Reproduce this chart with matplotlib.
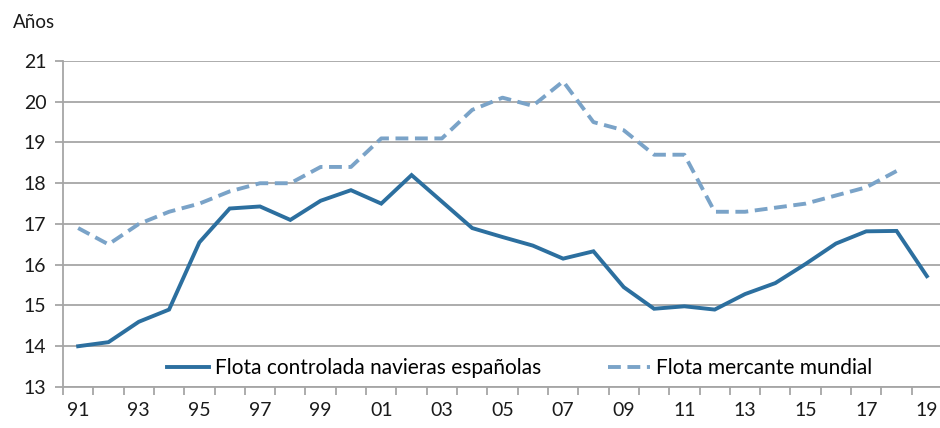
import matplotlib.pyplot as plt
import numpy as np

years = ['91', '92', '93', '94', '95', '96', '97', '98', '99', '00',
         '01', '02', '03', '04', '05', '06', '07', '08', '09', '10',
         '11', '12', '13', '14', '15', '16', '17', '18', '19']

flota_espanola = [14.0, 14.1, 14.6, 14.9, 16.55, 17.38, 17.43, 17.1, 17.57, 17.83,
                  17.5, 18.2, 17.55, 16.9, 16.68, 16.47, 16.15, 16.33, 15.45, 14.92,
                  14.98, 14.9, 15.28, 15.55, 16.02, 16.52, 16.82, 16.83, 15.72]

flota_mundial = [16.9, 16.5, 17.0, 17.3, 17.5, 17.8, 18.0, 18.0, 18.4, 18.4,
                 19.1, 19.1, 19.1, 19.8, 20.1, 19.9, 20.5, 19.5, 19.3, 18.7,
                 18.7, 17.3, 17.3, 17.4, 17.5, 17.7, 17.9, 18.3]

plt.rcParams['font.family'] = ['Lato', 'DejaVu Sans']

fig = plt.figure(figsize=(9.4, 4.28), dpi=100)
ax = fig.add_axes([0.067, 0.0958, 0.94, 0.7617])

grid_col = '#a6a6a6'
x_es = np.arange(len(flota_espanola))
x_mu = np.arange(len(flota_mundial))

ax.plot(x_es, flota_espanola, color='#2c6f9f', lw=2.8,
        label='Flota controlada navieras españolas', solid_joinstyle='miter')
ax.plot(x_mu, flota_mundial, color='#7aa3c8', lw=2.8, ls=(0, (3.3, 1.7)),
        label='Flota mercante mundial')

ax.set_ylim(13, 21)
ax.set_yticks(range(13, 22))
ax.set_xlim(-0.5, len(years) - 0.35)
ax.set_xticks(x_es[::2])
ax.set_xticklabels(years[::2])
ax.set_xticks(np.arange(-0.5, len(years), 1), minor=True)

ax.yaxis.grid(True, color=grid_col, lw=1.3)
ax.set_axisbelow(True)
for s in ['top', 'right']:
    ax.spines[s].set_visible(False)
for s in ['left', 'bottom']:
    ax.spines[s].set_color(grid_col)
    ax.spines[s].set_linewidth(1.3)

ax.tick_params(axis='x', which='major', length=0, pad=11, labelsize=14, colors='#1a1a1a')
ax.tick_params(axis='x', which='minor', length=6, width=1.3, color=grid_col)
ax.tick_params(axis='y', length=6, width=1.3, color=grid_col, labelsize=14,
               labelcolor='#1a1a1a', pad=6)

ax.legend(loc='lower center', bbox_to_anchor=(0.517, -0.03), ncol=2, frameon=False,
          fontsize=15, handlelength=2.0, columnspacing=3.2, handletextpad=0.3)

fig.text(0.014, 0.935, 'Años', fontsize=13.5, color='#1a1a1a')

fig.savefig('out.png', dpi=100)
